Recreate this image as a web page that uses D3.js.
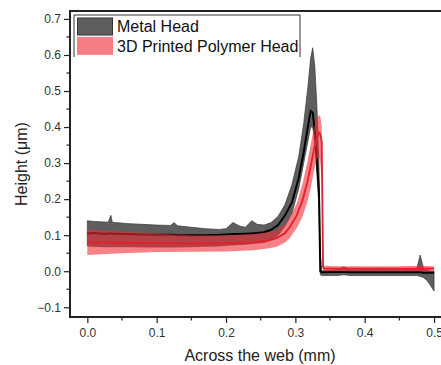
<!DOCTYPE html>
<html><head><meta charset="utf-8">
<script src="https://cdn.jsdelivr.net/npm/d3@7"></script>
<style>
html,body{margin:0;padding:0;background:#fff;}
svg{display:block;font-family:"Liberation Sans",Arial,sans-serif;}
</style></head>
<body>
<svg id="c" width="441" height="365"></svg>
<script>
// ---- data ----
const metalX     = [0, 0.01, 0.02, 0.03, 0.034, 0.036, 0.04, 0.06, 0.08, 0.1, 0.12, 0.125, 0.13, 0.15, 0.17, 0.19, 0.2, 0.21, 0.22, 0.228, 0.237, 0.245, 0.255, 0.265, 0.275, 0.285, 0.295, 0.305, 0.312, 0.318, 0.322, 0.325, 0.328, 0.331, 0.334, 0.336, 0.338, 0.34, 0.36, 0.37, 0.38, 0.4, 0.42, 0.44, 0.46, 0.475, 0.48, 0.485, 0.49, 0.495, 0.5];
const metalUpper = [0.14, 0.138, 0.137, 0.136, 0.155, 0.136, 0.135, 0.132, 0.13, 0.128, 0.127, 0.135, 0.126, 0.122, 0.118, 0.116, 0.118, 0.135, 0.125, 0.122, 0.14, 0.13, 0.128, 0.135, 0.152, 0.185, 0.24, 0.32, 0.41, 0.51, 0.59, 0.62, 0.57, 0.46, 0.3, 0.05, 0.0, 0.002, 0.004, 0.012, 0.004, 0.005, 0.006, 0.005, 0.006, 0.006, 0.045, 0.006, 0.004, 0.0, 0.0];
const metalLower = [0.07, 0.069, 0.068, 0.068, 0.068, 0.068, 0.068, 0.068, 0.067, 0.067, 0.067, 0.067, 0.067, 0.068, 0.069, 0.07, 0.072, 0.073, 0.074, 0.075, 0.076, 0.078, 0.08, 0.086, 0.1, 0.125, 0.16, 0.23, 0.3, 0.36, 0.4, 0.4, 0.36, 0.27, 0.18, -0.01, -0.012, -0.012, -0.012, -0.01, -0.012, -0.012, -0.012, -0.012, -0.012, -0.012, -0.014, -0.018, -0.026, -0.04, -0.055];
const metalMean  = [0.105, 0.106, 0.104, 0.104, 0.105, 0.104, 0.104, 0.103, 0.102, 0.101, 0.101, 0.101, 0.1, 0.1, 0.1, 0.101, 0.102, 0.103, 0.103, 0.104, 0.105, 0.106, 0.108, 0.115, 0.128, 0.155, 0.19, 0.26, 0.33, 0.4, 0.445, 0.44, 0.39, 0.31, 0.22, 0.0, -0.003, -0.003, -0.002, -0.002, -0.003, -0.003, -0.003, -0.003, -0.003, -0.003, -0.003, -0.004, -0.004, -0.004, -0.004];

const polyX     = [0, 0.02, 0.05, 0.08, 0.1, 0.15, 0.2, 0.24, 0.26, 0.273, 0.285, 0.292, 0.302, 0.31, 0.317, 0.322, 0.327, 0.331, 0.334, 0.336, 0.338, 0.34, 0.342, 0.36, 0.4, 0.45, 0.48, 0.5];
const polyUpper = [0.115, 0.113, 0.11, 0.107, 0.105, 0.1, 0.1, 0.103, 0.108, 0.114, 0.132, 0.15, 0.188, 0.24, 0.3, 0.35, 0.4, 0.425, 0.433, 0.43, 0.4, 0.02, 0.015, 0.014, 0.014, 0.014, 0.015, 0.014];
const polyLower = [0.045, 0.047, 0.05, 0.052, 0.053, 0.054, 0.055, 0.058, 0.063, 0.068, 0.08, 0.092, 0.12, 0.15, 0.19, 0.23, 0.28, 0.31, 0.32, 0.3, 0.25, 0.0, 0.0, 0.0, 0.0, 0.0, 0.0, 0.0];
const polyMean  = [0.08, 0.08, 0.079, 0.078, 0.078, 0.077, 0.078, 0.08, 0.085, 0.092, 0.105, 0.123, 0.155, 0.195, 0.245, 0.29, 0.34, 0.37, 0.385, 0.38, 0.36, 0.01, 0.007, 0.007, 0.007, 0.007, 0.007, 0.007];

const xTicks = [0, 0.1, 0.2, 0.3, 0.4, 0.5];
const yTicks = [-0.1, 0.0, 0.1, 0.2, 0.3, 0.4, 0.5, 0.6, 0.7];
const legendLabels = ["Metal Head", "3D Printed Polymer Head"];
const xTitle = "Across the web (mm)";
const yTitle = "Height (\u03bcm)";

// ---- layout ----
const L = 70, R = 450, T = 11, B = 317;
const svg = d3.select("#c");
const x = d3.scaleLinear().domain([-0.025, 0.523]).range([L, R]);
const y = d3.scaleLinear().domain([-0.127, 0.722]).range([B, T]);

const clip = svg.append("clipPath").attr("id","pc").append("rect")
  .attr("x", L).attr("y", T).attr("width", R - L).attr("height", B - T);
const g = svg.append("g").attr("clip-path","url(#pc)");

const metal = metalX.map((v,i)=>({x:v, lo:metalLower[i], hi:metalUpper[i], m:metalMean[i]}));
const poly = polyX.map((v,i)=>({x:v, lo:polyLower[i], hi:polyUpper[i], m:polyMean[i]}));

const area = d3.area().x(d=>x(d.x)).y0(d=>y(d.lo)).y1(d=>y(d.hi)).curve(d3.curveLinear);
const line = d3.line().x(d=>x(d.x)).y(d=>y(d.m)).curve(d3.curveLinear);

g.append("path").datum(metal).attr("d", area)
  .attr("fill", "#5e5e5e").attr("stroke", "#3a3a3a").attr("stroke-width", 0.7);
g.append("path").datum(metal).attr("d", line)
  .attr("fill", "none").attr("stroke", "#000").attr("stroke-width", 2);
g.append("path").datum(poly).attr("d", area)
  .attr("fill", "rgb(240,45,55)").attr("fill-opacity", 0.6);
g.append("path").datum(poly).attr("d", line)
  .attr("fill", "none").attr("stroke", "#e3202b").attr("stroke-width", 1.8);

// ---- axes ----
const axCol = "#222";
const yAxis = d3.axisLeft(y).tickValues(yTicks).tickSize(6).tickPadding(3)
  .tickFormat(d => d < 0 ? "\u2212" + Math.abs(d).toFixed(1) : d.toFixed(1));
const ya = svg.append("g").attr("transform", `translate(${L},0)`).call(yAxis);
const xAxis = d3.axisBottom(x).tickValues(xTicks).tickSize(6).tickPadding(5)
  .tickFormat(d => d.toFixed(1));
const xa = svg.append("g").attr("transform", `translate(0,${B})`).call(xAxis);
[ya, xa].forEach(a => {
  a.select(".domain").remove();
  a.selectAll("line").attr("stroke", axCol).attr("stroke-width", 1.2);
  a.selectAll("text").attr("fill", "#333").style("font-size", "12px")
    .style("font-family", '"Liberation Sans", Arial, sans-serif');
});
// minor ticks
const yMinor = d3.range(-0.1, 0.7, 0.1).map(v => +(v + 0.05).toFixed(2));
svg.append("g").selectAll("line").data(yMinor).join("line")
  .attr("x1", L - 3.5).attr("x2", L).attr("y1", d => y(d)).attr("y2", d => y(d))
  .attr("stroke", axCol).attr("stroke-width", 1.2);
const xMinor = [0.05, 0.15, 0.25, 0.35, 0.45];
svg.append("g").selectAll("line").data(xMinor).join("line")
  .attr("y1", B).attr("y2", B + 3.5).attr("x1", d => x(d)).attr("x2", d => x(d))
  .attr("stroke", axCol).attr("stroke-width", 1.2);

// frame
svg.append("path").attr("d", `M${R},${T}H${L}V${B}H${R}`)
  .attr("fill", "none").attr("stroke", axCol).attr("stroke-width", 2);

// titles
svg.append("text").attr("x", (L + R) / 2).attr("y", 361).attr("text-anchor", "middle")
  .attr("fill", "#222").style("font-size", "16px").text(xTitle);
svg.append("text").attr("transform", `translate(26.5,${(T + B) / 2}) rotate(-90)`)
  .attr("text-anchor", "middle").attr("fill", "#222").style("font-size", "16px").text(yTitle);

// legend
const lg = svg.append("g");
lg.append("path").attr("d", "M74,57V15H300V57").attr("fill", "none")
  .attr("stroke", "#333").attr("stroke-width", 1);
const swFill = ["#5e5e5e", "rgb(246,125,132)"];
const swStroke = ["#333", "rgb(246,125,132)"];
legendLabels.forEach((t, i) => {
  lg.append("rect").attr("x", 77.5).attr("y", 18 + i * 19.3).attr("width", 35).attr("height", 17)
    .attr("fill", swFill[i]).attr("stroke", swStroke[i]).attr("stroke-width", 1);
  lg.append("text").attr("x", 117).attr("y", 32 + i * 20).attr("fill", "#111")
    .style("font-size", "16px").text(t);
});
</script>
</body></html>
